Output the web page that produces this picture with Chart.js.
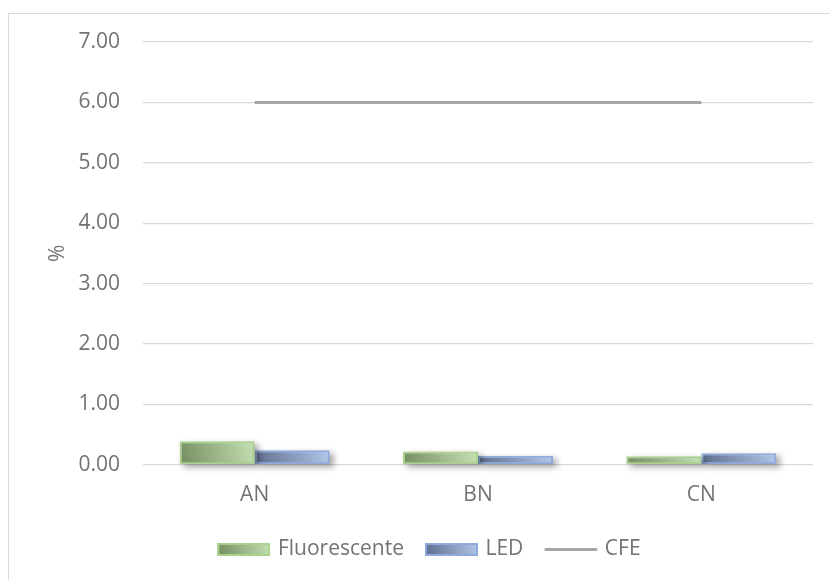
<!DOCTYPE html>
<html>
<head>
<meta charset="utf-8">
<script src="https://cdn.jsdelivr.net/npm/chart.js@4/dist/chart.umd.min.js"></script>
<style>
  html, body { margin: 0; padding: 0; background: #ffffff; }
  #wrap { position: relative; width: 830px; height: 580px; overflow: hidden; }
  #frame { position: absolute; left: 8px; top: 13px; width: 900px; height: 700px;
           border: 1px solid #d9d9d9; box-sizing: border-box; pointer-events: none; }
  canvas { position: absolute; left: 0; top: 0; }
</style>
</head>
<body>
<div id="wrap">
  <div id="frame"></div>
  <canvas id="chart" width="830" height="580"></canvas>
</div>
<script>
// Categories and series
const categories = ['AN', 'BN', 'CN'];
const fluorescente = [0.39, 0.22, 0.14];
const led = [0.24, 0.15, 0.19];
const cfe = [6.00, 6.00, 6.00];
const yMin = 0, yMax = 7, yStep = 1;

const FONT = "'Open Sans', 'Noto Sans', sans-serif";
const FSIZE = 21;
const TEXT = '#737373';
const GRID = '#d9d9d9';
const CAT_PCT = 0.672;

const palette = {
  fluo: { dark: '#738c60', light: '#c6e1b4', border: '#a9d18e' },
  led:  { dark: '#5d6d8d', light: '#b3c7ea', border: '#8eaadc' }
};

// Diagonal gradient for one bar, computed from the scales
function barGradient(ctx, pal) {
  const chart = ctx.chart;
  const xs = chart.scales.x, ys = chart.scales.y;
  if (!xs || !ys || !chart.chartArea || ctx.raw == null) return pal.light;
  const center = xs.getPixelForValue(ctx.dataIndex);
  const barW = (xs.width / categories.length) * CAT_PCT / 2;
  const left = ctx.datasetIndex === 0 ? center - barW : center;
  const top = ys.getPixelForValue(ctx.raw);
  const base = ys.getPixelForValue(0);
  const g = chart.ctx.createLinearGradient(left, base, left + barW, top);
  g.addColorStop(0, pal.dark);
  g.addColorStop(1, pal.light);
  return g;
}

// Small marker images for the legend
function boxMarker(pal) {
  const c = document.createElement('canvas');
  c.width = 53; c.height = 13;
  const x = c.getContext('2d');
  const g = x.createLinearGradient(0, 13, 53, 0);
  g.addColorStop(0, pal.dark);
  g.addColorStop(1, pal.light);
  x.fillStyle = g;
  x.fillRect(0, 0, 53, 13);
  x.strokeStyle = pal.border;
  x.lineWidth = 2;
  x.strokeRect(1, 1, 51, 11);
  return c;
}
function lineMarker(color) {
  const c = document.createElement('canvas');
  c.width = 54; c.height = 13;
  const x = c.getContext('2d');
  x.strokeStyle = color;
  x.lineWidth = 3;
  x.lineCap = 'round';
  x.beginPath();
  x.moveTo(2, 6.5); x.lineTo(52, 6.5);
  x.stroke();
  return c;
}
const markers = [boxMarker(palette.fluo), boxMarker(palette.led), lineMarker('#a5a5a5')];

// Soft drop shadow under the bars
const barShadow = {
  id: 'barShadow',
  beforeDatasetDraw(chart, args) {
    if (args.meta.type !== 'bar') return;
    const c = chart.ctx;
    c.save();
    c.filter = 'blur(3px)';
    c.fillStyle = 'rgba(0,0,0,0.35)';
    args.meta.data.forEach(el => {
      const p = el.getProps(['x', 'y', 'base', 'width'], true);
      c.fillRect(p.x - p.width / 2 + 4, p.y + 3, p.width, p.base - p.y);
    });
    c.restore();
  }
};

// Nudge the legend block to the right
const legendShift = {
  id: 'legendShift',
  afterLayout(chart) {
    if (chart.legend) { chart.legend.left += 24; chart.legend.right += 24; }
  }
};

new Chart(document.getElementById('chart'), {
  data: {
    labels: categories,
    datasets: [
      {
        type: 'bar', label: 'Fluorescente', data: fluorescente,
        backgroundColor: c => barGradient(c, palette.fluo),
        borderColor: palette.fluo.border, borderWidth: 2, borderSkipped: false,
        categoryPercentage: CAT_PCT, barPercentage: 1, order: 2
      },
      {
        type: 'bar', label: 'LED', data: led,
        backgroundColor: c => barGradient(c, palette.led),
        borderColor: palette.led.border, borderWidth: 2, borderSkipped: false,
        categoryPercentage: CAT_PCT, barPercentage: 1, order: 2
      },
      {
        type: 'line', label: 'CFE', data: cfe,
        borderColor: '#a5a5a5', backgroundColor: '#a5a5a5', borderWidth: 3,
        pointRadius: 0, fill: false, tension: 0, order: 1
      }
    ]
  },
  options: {
    responsive: false,
    animation: false,
    layout: { padding: { left: 0, right: 17, top: 42, bottom: 10 } },
    plugins: {
      tooltip: { enabled: false },
      legend: {
        position: 'bottom',
        labels: {
          font: { family: FONT, size: FSIZE },
          color: TEXT,
          usePointStyle: true,
          pointStyleWidth: 47,
          boxHeight: 13,
          padding: 24,
          sort: (a, b) => a.datasetIndex - b.datasetIndex,
          generateLabels(chart) {
            const items = Chart.defaults.plugins.legend.labels.generateLabels(chart);
            items.forEach(it => { it.pointStyle = markers[it.datasetIndex]; it.fontColor = TEXT; });
            return items;
          }
        }
      }
    },
    scales: {
      x: {
        grid: { display: false, drawTicks: false },
        border: { display: false },
        ticks: { font: { family: FONT, size: FSIZE }, color: TEXT, padding: 18 },
        afterFit(scale) { scale.height -= 11; }
      },
      y: {
        min: yMin, max: yMax,
        grid: { color: GRID, lineWidth: 1.3, drawTicks: false },
        border: { display: false },
        ticks: {
          stepSize: yStep, padding: 23,
          font: { family: FONT, size: FSIZE }, color: TEXT,
          callback: v => v.toFixed(2)
        },
        title: { display: true, text: '%', font: { family: FONT, size: FSIZE }, color: TEXT, padding: { top: 45 } },
        afterFit(scale) { scale.width = 143; }
      }
    }
  },
  plugins: [barShadow, legendShift]
});
</script>
</body>
</html>
